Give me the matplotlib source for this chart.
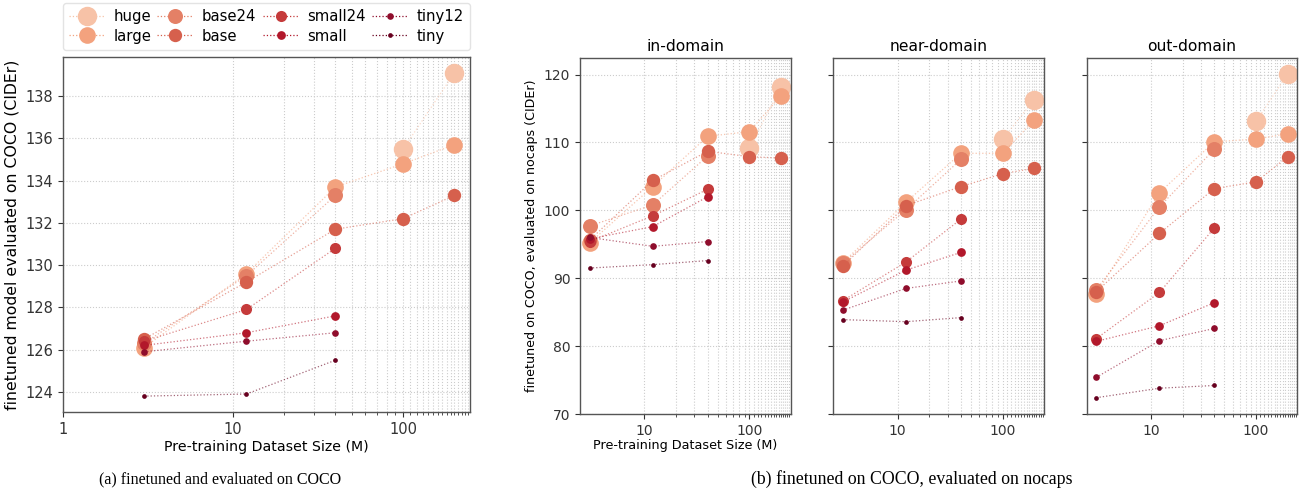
import matplotlib
matplotlib.use('Agg')
import matplotlib.pyplot as plt
from matplotlib.ticker import FixedLocator, NullFormatter
import numpy as np

plt.rcParams.update({
    'font.family': 'DejaVu Sans',
    'axes.edgecolor': '#555555',
    'axes.linewidth': 1.0,
    'xtick.color': '#333333',
    'ytick.color': '#333333',
})

# model names, in legend order
models = ['huge', 'large', 'base24', 'base', 'small24', 'small', 'tiny12', 'tiny']

# pre-training dataset sizes (M) each model was trained on
sizes_all = [3, 12, 40, 100, 200]
sizes_small = [3, 12, 40]
sizes_huge = [100, 200]
model_sizes = {
    'huge': sizes_huge, 'large': sizes_all, 'base24': sizes_small, 'base': sizes_all,
    'small24': sizes_small, 'small': sizes_small, 'tiny12': sizes_small, 'tiny': sizes_small,
}

# (a) finetuned and evaluated on COCO, CIDEr
coco = {
    'huge':    [135.5, 139.1],
    'large':   [126.1, 129.6, 133.7, 134.8, 135.7],
    'base24':  [126.3, 129.5, 133.3],
    'base':    [126.5, 129.2, 131.7, 132.2, 133.3],
    'small24': [126.4, 127.9, 130.8],
    'small':   [126.2, 126.8, 127.6],
    'tiny12':  [125.9, 126.4, 126.8],
    'tiny':    [123.8, 123.9, 125.5],
}

# (b) finetuned on COCO, evaluated on nocaps, CIDEr
nocaps_in = {
    'huge':    [109.2, 118.1],
    'large':   [95.2, 103.5, 110.9, 111.6, 116.9],
    'base24':  [97.7, 100.8, 108.0],
    'base':    [95.6, 104.4, 108.7, 107.9, 107.7],
    'small24': [95.4, 99.2, 103.1],
    'small':   [95.8, 97.6, 102.0],
    'tiny12':  [96.0, 94.7, 95.4],
    'tiny':    [91.5, 92.0, 92.6],
}
nocaps_near = {
    'huge':    [110.5, 116.3],
    'large':   [92.3, 101.2, 108.4, 108.4, 113.3],
    'base24':  [92.2, 100.1, 107.5],
    'base':    [91.8, 100.7, 103.5, 105.4, 106.2],
    'small24': [86.7, 92.4, 98.7],
    'small':   [86.5, 91.2, 93.8],
    'tiny12':  [85.3, 88.5, 89.6],
    'tiny':    [83.9, 83.6, 84.2],
}
nocaps_out = {
    'huge':    [113.1, 120.1],
    'large':   [87.7, 102.6, 110.1, 110.5, 111.3],
    'base24':  [88.3, 100.5, 109.0],
    'base':    [88.0, 96.6, 103.2, 104.2, 107.9],
    'small24': [81.1, 87.9, 97.4],
    'small':   [80.7, 83.0, 86.4],
    'tiny12':  [75.4, 80.8, 82.6],
    'tiny':    [72.4, 73.8, 74.2],
}

colors = {
    'huge': '#f7c2a7', 'large': '#f3a27e', 'base24': '#e48066', 'base': '#d6604d',
    'small24': '#c53b3b', 'small': '#b2182b', 'tiny12': '#8f0d2c', 'tiny': '#67001f',
}
msizes = {
    'huge': 14, 'large': 12, 'base24': 10.8, 'base': 9.6,
    'small24': 8, 'small': 6.3, 'tiny12': 4.8, 'tiny': 3.4,
}


def draw_panel(ax, data):
    for m in models:
        # line and markers drawn separately so the dotted line can be lighter
        ax.plot(model_sizes[m], data[m], linestyle=':', linewidth=0.9, color=colors[m], alpha=0.6)
        ax.plot(model_sizes[m], data[m], linestyle='none', marker='o',
                markersize=msizes[m], markeredgewidth=0, color=colors[m])
    ax.set_xscale('log')
    ax.xaxis.set_minor_locator(FixedLocator(np.arange(10, 300, 10)))
    ax.xaxis.set_minor_formatter(NullFormatter())
    ax.grid(True, which='major', color='#cccccc', linestyle=':', linewidth=0.8)
    ax.grid(True, which='minor', axis='x', color='#cccccc', linestyle=':', linewidth=0.8)
    ax.set_axisbelow(True)


fig = plt.figure(figsize=(12.99, 4.9), dpi=100)

# (a)
ax0 = fig.add_axes([0.0483, 0.1586, 0.3135, 0.7257])
draw_panel(ax0, coco)
ax0.set_xlim(left=1)
ax0.set_xticks([1, 10, 100])
ax0.set_xticklabels(['1', '10', '100'])
ax0.tick_params(labelsize=10.5)
ax0.set_xlabel('Pre-training Dataset Size (M)', fontsize=10.2, labelpad=2)
ax0.set_ylabel('finetuned model evaluated on COCO (CIDEr)', fontsize=11.3)

handles = [plt.Line2D([], [], linestyle=':', linewidth=0.9, color=colors[m], marker='o',
                      markersize=msizes[m], markeredgewidth=0) for m in models]
ax0.legend(handles, models, ncol=4, loc='lower left', bbox_to_anchor=(0, 1.02, 1, 0.1),
           mode='expand', borderaxespad=0, fontsize=10.7, handlelength=2.4, columnspacing=0.8,
           handletextpad=0.6, labelspacing=0.3, edgecolor='#dddddd')

# (b)
lefts = [580 / 1299, 833.3 / 1299, 1086.7 / 1299]
w = 210.5 / 1299
bot = 1 - 414 / 490
h = (414 - 57.7) / 490
titles = ['in-domain', 'near-domain', 'out-domain']
panels = [nocaps_in, nocaps_near, nocaps_out]
axes = []
for i in range(3):
    ax = fig.add_axes([lefts[i], bot, w, h], sharey=axes[0] if axes else None)
    draw_panel(ax, panels[i])
    ax.set_xticks([10, 100])
    ax.set_xticklabels(['10', '100'])
    ax.set_title(titles[i], fontsize=11.2, pad=5)
    ax.tick_params(labelsize=10)
    if i > 0:
        ax.tick_params(labelleft=False)
    axes.append(ax)
axes[0].set_yticks([70, 80, 90, 100, 110, 120])
axes[0].set_ylabel('finetuned on COCO, evaluated on nocaps (CIDEr)', fontsize=9.1)
axes[0].set_xlabel('Pre-training Dataset Size (M)', fontsize=9.2, labelpad=1)

fig.text(220 / 1299, 1 - 479 / 490, '(a) finetuned and evaluated on COCO',
         family='Liberation Serif', fontsize=11.5, ha='center', va='center')
fig.text(912 / 1299, 1 - 479 / 490, '(b) finetuned on COCO, evaluated on nocaps',
         family='Liberation Serif', fontsize=12.8, ha='center', va='center')

fig.savefig('out.png', dpi=100)
